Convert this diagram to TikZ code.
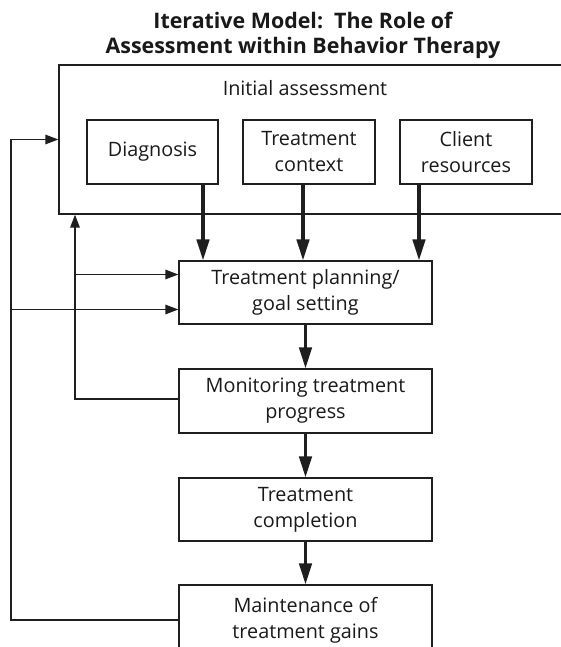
\documentclass[tikz,border=0pt]{standalone}
\usepackage{fontspec}
\setmainfont{Open Sans}
\usetikzlibrary{arrows.meta,calc}
\tikzset{
  box/.style={draw=black!88, line width=1.3pt, align=center, inner sep=0pt,
    font=\fontsize{19.8}{26}\selectfont, text=black!90},
  bigarrow/.style={draw=black!88, line width=3.2pt,
    -{Triangle[length=21pt,width=12.5pt]}},
  thinarrow/.style={draw=black!88, line width=1.4pt,
    -{Triangle[length=13pt,width=9.5pt]}},
}
\begin{document}
\begin{tikzpicture}[x=1pt,y=-1pt]
\useasboundingbox (0,0) rectangle (561,647);
% title
\node[align=center, font=\bfseries\fontsize{21.4}{25}\selectfont, text=black!90] (title) at (303,35) {Iterative Model:\ \ The Role of\\Assessment within Behavior Therapy};
% initial assessment container
\node[box, minimum width=516pt, minimum height=149pt] (init) at (317,139.5) {};
\node[font=\fontsize{19.8}{26}\selectfont, text=black!90, inner sep=0pt] (initlabel) at (305,88) {Initial assessment};
\node[box, minimum width=131pt, minimum height=64pt] (diag) at (152.5,152) {Diagnosis};
\node[box, minimum width=132pt, minimum height=64pt] (ctx) at (309,152) {Treatment\\context};
\node[box, minimum width=132pt, minimum height=64pt] (cli) at (466,152) {Client\\resources};
% process boxes
\node[box, minimum width=253pt, minimum height=63pt] (plan) at (305.5,292.5) {Treatment planning/\\goal setting};
\node[box, minimum width=253pt, minimum height=64pt] (mon) at (305.5,401) {Monitoring treatment\\progress};
\node[box, minimum width=253pt, minimum height=63pt] (comp) at (305.5,509.5) {Treatment\\completion};
\node[box, minimum width=253pt, minimum height=70pt] (maint) at (305.5,620) {Maintenance of\\treatment gains};
% helper positions
\coordinate (xd) at (203,0);
\coordinate (xc) at (303,0);
\coordinate (xr) at (419,0);
\coordinate (xi) at (75,0);
\coordinate (xo) at (11,0);
\coordinate (pa) at ([yshift=18pt]plan.west);
\coordinate (pb) at ([yshift=-17pt]plan.west);
\coordinate (mw) at ([yshift=2pt]mon.west);
% thick arrows
\draw[bigarrow] (xd |- diag.south) -- (xd |- plan.north);
\draw[bigarrow] (xc |- ctx.south) -- (xc |- plan.north);
\draw[bigarrow] (xr |- cli.south) -- (xr |- plan.north);
\draw[bigarrow] (plan.south) -- (mon.north);
\draw[bigarrow] (mon.south) -- (comp.north);
\draw[bigarrow] (comp.south) -- (maint.north);
% inner feedback loop
\draw[thinarrow] (mw) -| (xi |- init.south);
\draw[thinarrow] (xi |- pa) -- (pa);
% outer feedback loop
\draw[thinarrow] (maint.west) -| (xo |- init.west) -- (init.west);
\draw[thinarrow] (xo |- pb) -- (pb);
\end{tikzpicture}
\end{document}
